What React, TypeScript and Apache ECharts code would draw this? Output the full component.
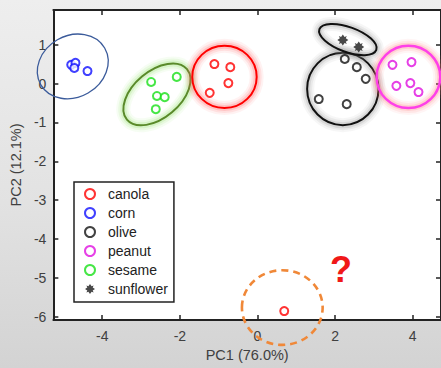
import React, { useEffect, useRef } from "react";
import * as echarts from "echarts";

// ---- data ----
const classNames = ["canola", "corn", "olive", "peanut", "sesame", "sunflower"];

const canolaPoints = [
  [-1.11, 0.5],
  [-0.7, 0.42],
  [-0.75, 0.01],
  [-1.23, -0.24],
];
const unknownPoint = [0.69, -5.85];
const cornPoints = [
  [-4.8, 0.48],
  [-4.69, 0.53],
  [-4.72, 0.4],
  [-4.38, 0.32],
];
const olivePoints = [
  [2.25, 0.63],
  [2.56, 0.42],
  [2.79, 0.12],
  [1.58, -0.4],
  [2.3, -0.53],
];
const peanutPoints = [
  [3.48, 0.48],
  [3.97, 0.55],
  [3.58, -0.06],
  [3.94, 0.01],
  [4.15, -0.22],
];
const sesamePoints = [
  [-2.74, 0.04],
  [-2.08, 0.17],
  [-2.59, -0.32],
  [-2.39, -0.35],
  [-2.62, -0.66],
];
const sunflowerPoints = [
  [2.2, 1.12],
  [2.61, 0.94],
];

// ellipses: [centerX, centerY, semiAxisX, semiAxisY, angleDeg]
const ellipseNames = ["corn", "sesame", "canola", "olive", "sunflower", "peanut", "unknown"];
const ellipseParams = [
  [-4.76, 0.44, 0.95, 0.79, 30],
  [-2.59, -0.28, 1.01, 0.6, 40],
  [-0.85, 0.17, 0.83, 0.8, 0],
  [2.2, -0.14, 0.92, 0.93, 0],
  [2.33, 1.13, 0.78, 0.32, -20],
  [3.89, 0.17, 0.82, 0.8, 0],
  [0.64, -5.76, 1.04, 0.96, 0],
];

const questionMark = [2.15, -4.77];

const xTicks = [-4, -2, 0, 2, 4];
const yTicks = [-6, -5, -4, -3, -2, -1, 0, 1];
const xTitle = "PC1 (76.0%)";
const yTitle = "PC2 (12.1%)";

// ---- styles ----
const FONT = "'Liberation Sans', Arial, Helvetica, sans-serif";
const classColors: Record<string, string> = {
  canola: "#ff0000",
  corn: "#1010ff",
  olive: "#111111",
  peanut: "#e010e0",
  sesame: "#18e018",
  sunflower: "#1a1a1a",
};
const ellipseStyles: Record<string, any> = {
  corn: { stroke: "#3b5b9b", lineWidth: 1.3 },
  sesame: { stroke: "#5a8a2a", lineWidth: 2, glow: "#8ee060" },
  canola: { stroke: "#ff0000", lineWidth: 2, glow: "#ff5a5a" },
  olive: { stroke: "#111111", lineWidth: 2, glow: "#8a8a8a" },
  sunflower: { stroke: "#111111", lineWidth: 2, glow: "#8a8a8a" },
  peanut: { stroke: "#ff40e8", lineWidth: 2.5, glow: "#ff7a7a" },
  unknown: { stroke: "#f08838", lineWidth: 2.6, lineDash: [7, 5] },
};
const glowLayers = [
  { w: 14, o: 0.08 },
  { w: 10, o: 0.12 },
  { w: 6, o: 0.2 },
];
const starPath =
  "path://M0,-5 L1.6,-2.7 L3.6,-3.6 L2.7,-1.6 L5,0 L2.7,1.6 L3.6,3.6 L1.6,2.7 L0,5 L-1.6,2.7 L-3.6,3.6 L-2.7,1.6 L-5,0 L-2.7,-1.6 L-3.6,-3.6 L-1.6,-2.7 Z";

export default function App() {
  const ref = useRef<HTMLDivElement>(null);

  useEffect(() => {
    document.body.style.margin = "0";
    const chart = echarts.init(ref.current!, null, { renderer: "svg" });

    const circleSeries = (name: string, pts: any[], extra?: any[]) => ({
      name,
      type: "scatter",
      symbol: "emptyCircle",
      symbolSize: 8,
      z: 5,
      itemStyle: { color: classColors[name], borderColor: classColors[name], borderWidth: 2 },
      data: extra ? [...pts, ...extra] : pts,
    });

    const axisLine = { show: true, onZero: false, lineStyle: { color: "#222", width: 2 } };
    const tick = { show: true, inside: true, length: 5, lineStyle: { color: "#222", width: 1.5 } };
    const labelStyle = { color: "#404040", fontSize: 14, fontFamily: FONT };

    chart.setOption({
      animation: false,
      backgroundColor: "transparent",
      grid: {
        left: 52,
        top: 10,
        width: 390,
        height: 310,
        show: true,
        backgroundColor: "#ffffff",
        borderWidth: 0,
      },
      xAxis: [
        {
          type: "value",
          min: -5.26,
          max: 4.73,
          position: "bottom",
          axisLine,
          axisTick: { ...tick, customValues: xTicks },
          axisLabel: { ...labelStyle, margin: 9, customValues: xTicks },
          splitLine: { show: false },
          name: xTitle,
          nameLocation: "middle",
          nameGap: 24,
          nameTextStyle: { color: "#404040", fontSize: 14.5, fontFamily: FONT },
        },
        {
          type: "value",
          min: -5.26,
          max: 4.73,
          position: "top",
          axisLine,
          axisTick: { ...tick, customValues: xTicks },
          axisLabel: { show: false },
          splitLine: { show: false },
        },
      ],
      yAxis: [
        {
          type: "value",
          min: -6.08,
          max: 1.89,
          position: "left",
          axisLine,
          axisTick: { ...tick, customValues: yTicks },
          axisLabel: { ...labelStyle, margin: 7, customValues: yTicks },
          splitLine: { show: false },
          name: yTitle,
          nameLocation: "middle",
          nameGap: 25,
          nameTextStyle: { color: "#404040", fontSize: 14.5, fontFamily: FONT },
        },
        {
          type: "value",
          min: -6.08,
          max: 1.89,
          position: "right",
          axisLine,
          axisTick: { ...tick, customValues: yTicks },
          axisLabel: { show: false },
          splitLine: { show: false },
        },
      ],
      legend: {
        data: classNames,
        orient: "vertical",
        left: 74,
        top: 182,
        backgroundColor: "#ffffff",
        borderColor: "#222",
        borderWidth: 1.5,
        borderRadius: 0,
        padding: [5, 6, 6, 10],
        itemWidth: 26,
        itemHeight: 10,
        itemGap: 5,
        textStyle: { color: "#222", fontSize: 14, fontFamily: FONT, lineHeight: 14 },
      },
      series: [
        {
          name: "ellipses",
          type: "custom",
          z: 2,
          clip: false,
          silent: true,
          data: ellipseParams,
          renderItem: (params: any, api: any) => {
            const i = params.dataIndex;
            const c = api.coord([api.value(0), api.value(1)]);
            const s = api.size([api.value(2), api.value(3)]);
            const { glow, ...st } = ellipseStyles[ellipseNames[i]];
            const shape = { cx: 0, cy: 0, rx: s[0], ry: s[1] };
            const children: any[] = [];
            if (glow) {
              glowLayers.forEach((g) =>
                children.push({
                  type: "ellipse",
                  shape,
                  style: { fill: "none", stroke: glow, lineWidth: g.w, opacity: g.o },
                })
              );
            }
            children.push({ type: "ellipse", shape, style: { fill: "none", ...st } });
            return {
              type: "group",
              x: c[0],
              y: c[1],
              rotation: (api.value(4) * Math.PI) / 180,
              children,
            };
          },
        },
        circleSeries(
          "canola",
          canolaPoints.map((p) => ({ value: p, itemStyle: { borderColor: "#c8161e" } })),
          [{ value: unknownPoint }]
        ),
        circleSeries("corn", cornPoints),
        circleSeries("olive", olivePoints),
        circleSeries("peanut", peanutPoints),
        circleSeries("sesame", sesamePoints),
        {
          name: "sunflower",
          type: "scatter",
          symbol: starPath,
          symbolSize: 11,
          z: 5,
          itemStyle: { color: classColors.sunflower },
          data: sunflowerPoints,
        },
        {
          name: "annotation",
          type: "custom",
          z: 6,
          clip: false,
          silent: true,
          data: [questionMark],
          renderItem: (params: any, api: any) => {
            const c = api.coord([api.value(0), api.value(1)]);
            return {
              type: "text",
              x: c[0],
              y: c[1],
              style: {
                text: "?",
                fill: "#f01818",
                font: `bold 36px ${FONT}`,
                align: "center",
                verticalAlign: "middle",
              },
            };
          },
        },
      ],
    });

    return () => chart.dispose();
  }, []);

  return (
    <div
      style={{
        width: 441,
        height: 368,
        background: "linear-gradient(180deg, #eeeeee 0%, #e2e2e2 55%, #d3d3d3 100%)",
      }}
    >
      <div ref={ref} style={{ width: 441, height: 368 }} />
    </div>
  );
}
